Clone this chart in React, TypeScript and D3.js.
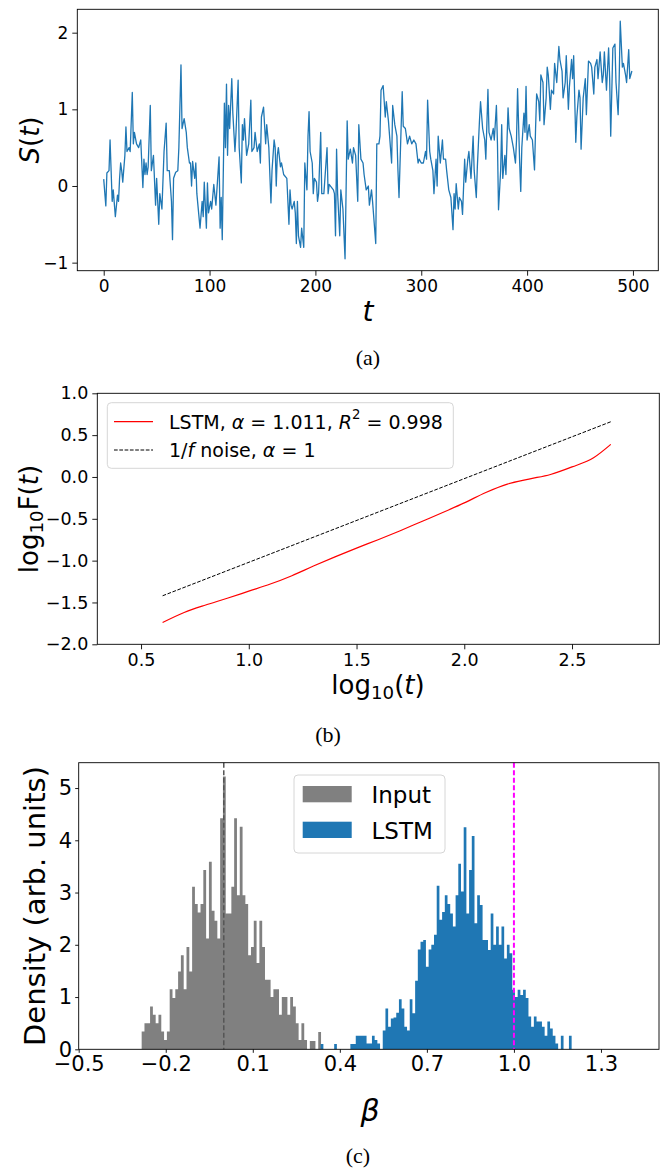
import React, { useEffect, useRef } from 'react';
import * as d3 from 'd3';

// (a) S(t) series as [t, S]
const seriesPoints: [number, number][] = [
  [0,0.09],[2,-0.26],[3,0.17],[5,0.2],[6,0.6],[8,-0.2],[9,-0.05],[11,-0.4],[13,-0.12],[14,-0.2],[15,0.1],[16,0.3],[17,0.2],[18,0.05],[20,0.4],[21,0.77],[22,0.45],[24,0.5],[25,0.45],[27,1.22],[28,0.55],[29,0.7],[31,0.55],[33,0.5],[35,0.6],[37,-0.02],[38,0.35],[39,0.15],[40,0.3],[41,0.15],[42,0.25],[44,1.05],[45,0.2],[47,0.4],[49,-0.25],[50,0.1],[52,-0.5],[53,-0.1],[55,-0.3],[57,0.45],[59,0.82],[60,0.2],[62,0.2],[64,-0.2],[65,-0.7],[66,0.1],[68,0.18],[70,0.2],[71,0.5],[73,1.58],[74,0.75],[76,0.88],[78,0.7],[79,0.5],[81,0.3],[82,0.3],[83,0.0],[84,0.32],[86,0.1],[87,0.3],[88,-0.1],[91,-0.55],[93,-0.2],[94,-0.4],[95,0.05],[97,-0.55],[98,0.04],[99,-0.35],
  [101,-0.2],[102,-0.3],[104,0.02],[106,-0.25],[109,0.38],[110,-0.55],[111,-0.15],[112,-0.7],[114,1.08],[115,0.5],[116,1.33],[117,0.4],[118,1.05],[119,0.75],[121,1.4],[122,0.95],[124,0.45],[125,0.7],[127,1.38],[128,0.5],[130,0.04],[131,0.8],[132,0.6],[133,0.88],[135,0.4],[137,0.55],[139,1.12],[140,0.45],[142,0.5],[143,0.7],[145,0.45],[147,0.55],[148,0.3],[149,0.9],[151,1.03],[153,0.55],[154,0.8],[156,0.5],[158,-0.22],[159,0.2],[161,0.6],[162,0.5],[163,0.0],[164,0.4],[165,0.5],[167,0.25],[168,0.3],[170,0.15],[173,0.1],[175,-0.5],[176,-0.05],[177,-0.25],[178,-0.3],[180,-0.2],[181,-0.35],[182,-0.75],[183,-0.2],[184,-0.65],[186,-0.8],[187,-0.55],[189,-0.8],[190,0.3],[192,-0.05],[193,0.65],[194,0.97],[195,0.45],[197,0.3],[198,-0.1],[199,0.1],
  [201,0.05],[202,-0.2],[203,-0.1],[205,0.7],[206,-0.1],[208,-0.1],[211,0.5],[212,-0.1],[213,0.02],[217,-0.05],[218,-0.1],[219,-0.65],[220,0.48],[221,-0.1],[223,-0.65],[224,-0.05],[226,-0.3],[228,-0.95],[230,0.85],[231,0.35],[233,0.48],[235,0.3],[236,0.5],[238,0.4],[240,-0.2],[241,0.8],[243,0.35],[245,0.3],[246,0.15],[248,-0.05],[250,0.0],[251,-0.25],[253,-0.05],[254,-0.2],[257,-0.75],[258,0.55],[260,0.55],[261,0.65],[262,1.25],[264,1.31],[266,0.9],[267,1.1],[269,0.85],[272,0.3],[273,1.05],[275,0.8],[277,0.65],[278,0.2],[279,-0.15],[282,1.23],[283,0.78],[285,0.75],[287,0.55],[289,0.65],[291,0.55],[293,0.6],[295,0.55],[297,0.3],[298,0.35],
  [300,0.3],[302,0.3],[304,0.45],[305,0.35],[306,1.12],[308,0.45],[309,0.35],[311,0.2],[312,-0.1],[314,0.35],[315,0.0],[316,0.65],[318,0.3],[320,0.6],[321,0.35],[323,0.35],[324,0.2],[326,-0.05],[328,-0.15],[330,-0.57],[331,-0.1],[332,-0.3],[333,0.03],[335,-0.3],[336,-0.15],[338,-0.2],[339,-0.37],[341,0.35],[342,0.05],[344,0.35],[345,0.45],[347,0.1],[349,0.65],[350,0.2],[352,-0.15],[353,0.25],[355,0.85],[356,1.1],[358,0.75],[360,0.6],[361,0.35],[363,1.26],[364,0.7],[366,0.6],[368,0.75],[369,0.6],[371,1.05],[372,0.55],[373,-0.31],[375,0.2],[376,0.8],[377,0.1],[379,0.4],[380,0.15],[382,1.02],[383,0.75],[385,0.65],[387,0.5],[389,0.3],[390,0.6],[391,1.27],[393,0.3],[394,-0.07],[395,0.5],[397,0.95],[398,0.7],[399,1.3],
  [400,0.6],[402,0.8],[403,0.65],[405,0.6],[407,0.21],[408,0.75],[409,1.2],[411,1.1],[412,0.85],[413,1.45],[415,1.35],[416,0.8],[418,1.15],[419,1.55],[420,1.45],[422,1.0],[423,1.25],[425,1.2],[426,1.6],[428,1.35],[430,1.82],[431,1.65],[433,1.5],[434,1.15],[436,1.35],[437,1.7],[439,1.0],[440,1.3],[442,1.65],[443,1.4],[444,1.7],[446,0.57],[447,0.9],[449,1.25],[450,1.15],[451,0.48],[453,1.15],[455,1.4],[456,0.93],[458,1.63],[460,1.6],[461,1.55],[463,1.2],[464,1.55],[466,1.65],[467,1.4],[469,1.75],[471,1.35],[472,1.45],[473,1.75],[475,1.25],[477,1.8],[478,1.4],[479,0.65],[481,1.8],[483,1.85],[484,1.35],[486,0.93],[487,1.4],[488,2.15],[490,1.55],[491,1.6],[493,1.45],[494,1.35],[496,1.78],[497,1.4],[499,1.5],
];
const seriesXTicks = [0, 100, 200, 300, 400, 500];
const seriesYTicks = [-1, 0, 1, 2];

// (b) DFA fluctuation function
const dfaLogT = [0.6, 0.7, 0.8, 0.9, 1.0, 1.1, 1.2, 1.3, 1.4, 1.5, 1.6, 1.7, 1.8, 1.9, 2.0, 2.1, 2.2, 2.3, 2.4, 2.5, 2.6, 2.68];
const dfaLstm = [-1.74, -1.62, -1.53, -1.45, -1.365, -1.28, -1.18, -1.065, -0.955, -0.85, -0.75, -0.645, -0.535, -0.425, -0.31, -0.185, -0.085, -0.025, 0.03, 0.12, 0.23, 0.39];
const noiseLogT = [0.6, 2.68];
const noiseLogF = [-1.42, 0.66];
const dfaXTicks = [0.5, 1.0, 1.5, 2.0, 2.5];
const dfaYTicks = [-2.0, -1.5, -1.0, -0.5, 0.0, 0.5, 1.0];

// (c) beta histograms
const inputBinStart = -0.283;
const inputBinWidth = 0.00966;
const inputDensity = [
  0.34, 0.5, 0.5, 0.82, 0.66, 0.5, 0.66, 0.34, 0.18, 0.34,
  1.15, 0.98, 1.15, 1.49, 1.8, 1.15, 1.96, 1.49, 3.11, 2.78,
  2.62, 2.78, 3.43, 2.12, 3.59, 2.65, 2.46, 2.12, 4.42, 5.22,
  2.6, 2.6, 3.11, 4.42, 2.95, 4.26, 2.95, 2.78, 1.8, 1.96,
  2.46, 1.65, 2.46, 1.96, 1.33, 1.33, 1.0, 1.15, 1.15, 0.66,
  1.0, 1.0, 0.66, 1.0, 0.82, 0.5, 0.18, 0.5, 0.18, 0,
  0.16, 0.16, 0, 0.33,
];
const lstmBinStart = 0.334;
const lstmBinWidth = 0.0093;
const lstmDensity = [
  0.1, 0, 0, 0, 0, 0.1, 0, 0, 0, 0,
  0, 0.1, 0.1, 0.26, 0.26, 0.26, 0.26, 0.11, 0.11, 0.26,
  0.18, 0.11, 0,
  0.36, 0.78, 0.43, 0.59, 0.61, 0.7, 0.96, 0.78, 0.43, 0.36,
  0.96, 0.69, 1.31, 1.91, 2.06, 2.09, 1.58, 1.91, 2.0, 2.19,
  3.13, 2.48, 2.63, 2.95, 2.78, 2.6, 2.35, 2.95, 3.55, 3.02,
  4.25, 2.6, 3.43, 4.08, 2.41, 2.95, 2.76, 2.09, 2.09, 1.9,
  2.6, 2.0, 2.35, 2.0, 2.35, 1.74, 2.0, 1.84, 1.14, 1.0,
  1.14, 1.04, 1.14, 0.98, 0.63, 0.43, 0.63, 0.53, 0.53, 0.43,
  0.26, 0.53, 0.4, 0.26, 0.11, 0, 0.26, 0, 0, 0.26,
];
const inputMarker = 0.0;
const lstmMarker = 1.0;
const betaXTicks = [-0.5, -0.2, 0.1, 0.4, 0.7, 1.0, 1.3];
const betaYTicks = [0, 1, 2, 3, 4, 5];

const FONT = "'DejaVu Sans', sans-serif";
const SERIF = "'Liberation Serif', serif";

type Part = { t: string; i?: boolean; sub?: boolean; sup?: boolean };
type Sel = d3.Selection<SVGGElement, unknown, null, undefined>;

// text made of tspans (italic, subscript, superscript)
function richText(g: Sel, x: number, y: number, parts: Part[], size: number, anchor = 'start', rotate = false) {
  const text = g.append('text')
    .attr('font-family', FONT)
    .attr('font-size', size)
    .attr('text-anchor', anchor)
    .attr('dominant-baseline', 'central')
    .style('white-space', 'pre')
    .attr('transform', rotate ? `translate(${x},${y}) rotate(-90)` : `translate(${x},${y})`);
  let shift = 0;
  parts.forEach(p => {
    const target = p.sub ? size * 0.28 : p.sup ? -size * 0.4 : 0;
    const ts = text.append('tspan').attr('dy', target - shift).text(p.t);
    shift = target;
    if (p.sub || p.sup) ts.attr('font-size', size * 0.7);
    if (p.i) ts.attr('font-style', 'italic');
  });
  return text;
}

function drawAxes(g: Sel, x: d3.ScaleLinear<number, number>, y: d3.ScaleLinear<number, number>,
  xTicks: number[], yTicks: number[], fx: (d: number) => string, fy: (d: number) => string,
  size: number, tick = 5, pad = 4) {
  const [x0, x1] = x.range();
  const [yb, yt] = y.range();
  g.append('g')
    .attr('transform', `translate(0,${yb})`)
    .call(d3.axisBottom(x).tickValues(xTicks).tickFormat(d => fx(d as number)).tickSize(tick).tickPadding(pad))
    .call(a => a.select('.domain').remove())
    .call(a => a.selectAll('line').attr('stroke', '#000').attr('stroke-width', 0.9))
    .call(a => a.selectAll('text').attr('font-size', size).attr('font-family', FONT).attr('fill', '#000'));
  g.append('g')
    .attr('transform', `translate(${x0},0)`)
    .call(d3.axisLeft(y).tickValues(yTicks).tickFormat(d => fy(d as number)).tickSize(tick).tickPadding(pad))
    .call(a => a.select('.domain').remove())
    .call(a => a.selectAll('line').attr('stroke', '#000').attr('stroke-width', 0.9))
    .call(a => a.selectAll('text').attr('font-size', size).attr('font-family', FONT).attr('fill', '#000'));
  g.append('rect')
    .attr('x', x0).attr('y', yt)
    .attr('width', x1 - x0).attr('height', yb - yt)
    .attr('fill', 'none').attr('stroke', '#000').attr('stroke-width', 0.9);
}

const minus = (s: string) => s.replace('-', '\u2212');

const App: React.FC = () => {
  const ref = useRef<SVGSVGElement | null>(null);

  useEffect(() => {
    if (!ref.current) return;
    const svg = d3.select(ref.current);
    svg.selectAll('*').remove();
    const root = svg.append('g') as unknown as Sel;

    // ---------- (a) ----------
    const xa = d3.scaleLinear().domain([-24.95, 523.95]).range([77.3, 658.3]);
    const ya = d3.scaleLinear().domain([-1.105, 2.305]).range([270.7, 9.3]);
    const lineA = d3.line<[number, number]>().x(d => xa(d[0])).y(d => ya(d[1]));
    root.append('path')
      .datum(seriesPoints)
      .attr('d', lineA)
      .attr('fill', 'none')
      .attr('stroke', '#1f77b4')
      .attr('stroke-width', 1.3)
      .attr('stroke-linejoin', 'round');
    drawAxes(root, xa, ya, seriesXTicks, seriesYTicks, d => String(d), d => minus(String(d)), 17);
    richText(root, 368, 311, [{ t: 't', i: true }], 28, 'middle');
    richText(root, 30, 140, [{ t: 'S', i: true }, { t: '(' }, { t: 't', i: true }, { t: ')' }], 26, 'middle', true);
    root.append('text').attr('x', 368).attr('y', 357).attr('text-anchor', 'middle')
      .attr('dominant-baseline', 'central').attr('font-family', SERIF).attr('font-size', 22).text('(a)');

    // ---------- (b) ----------
    const xb = d3.scaleLinear().domain([0.297, 2.905]).range([97.3, 659.3]);
    const yb = d3.scaleLinear().domain([-2, 1]).range([644.3, 393.3]);
    const lineB = d3.line<number>().x((_, i) => xb(dfaLogT[i])).y(d => yb(d)).curve(d3.curveMonotoneX);
    const lineN = d3.line<number>().x((_, i) => xb(noiseLogT[i])).y(d => yb(d));
    root.append('path').datum(noiseLogF).attr('d', lineN)
      .attr('fill', 'none').attr('stroke', '#000').attr('stroke-width', 1).attr('stroke-dasharray', '3.7,1.6');
    root.append('path').datum(dfaLstm).attr('d', lineB)
      .attr('fill', 'none').attr('stroke', '#ff0000').attr('stroke-width', 1.2);
    drawAxes(root, xb, yb, dfaXTicks, dfaYTicks, d => d3.format('.1f')(d), d => d3.format('.1f')(d), 17.5);

    // legend (b)
    root.append('rect').attr('x', 107.3).attr('y', 402.7).attr('width', 346).attr('height', 65.6)
      .attr('rx', 4).attr('fill', '#fff').attr('fill-opacity', 0.8).attr('stroke', '#d6d6d6');
    root.append('line').attr('x1', 114).attr('x2', 153).attr('y1', 421.7).attr('y2', 421.7)
      .attr('stroke', '#ff0000').attr('stroke-width', 1.2);
    root.append('line').attr('x1', 114).attr('x2', 153).attr('y1', 450).attr('y2', 450)
      .attr('stroke', '#000').attr('stroke-width', 1).attr('stroke-dasharray', '3.7,1.6');
    richText(root, 169, 422, [
      { t: 'LSTM, ' }, { t: 'α', i: true }, { t: ' = 1.011, ' }, { t: 'R', i: true }, { t: '2', sup: true }, { t: ' = 0.998' },
    ], 19);
    richText(root, 169, 450, [
      { t: '1/' }, { t: 'f', i: true }, { t: ' noise, ' }, { t: 'α', i: true }, { t: ' = 1' },
    ], 19);

    richText(root, 378, 685, [{ t: 'log' }, { t: '10', sub: true }, { t: '(' }, { t: 't', i: true }, { t: ')' }], 26, 'middle');
    richText(root, 29, 519, [{ t: 'log' }, { t: '10', sub: true }, { t: 'F(' }, { t: 't', i: true }, { t: ')' }], 26, 'middle', true);
    root.append('text').attr('x', 328).attr('y', 734).attr('text-anchor', 'middle')
      .attr('dominant-baseline', 'central').attr('font-family', SERIF).attr('font-size', 22).text('(b)');

    // ---------- (c) ----------
    const xc = d3.scaleLinear().domain([-0.5, 1.5]).range([78.7, 659]);
    const yc = d3.scaleLinear().domain([0, 5.485]).range([1049.3, 762.7]);
    // each histogram is one stepped area, so neighbouring bins leave no seams
    const histArea = d3.area<[number, number]>()
      .x(d => xc(d[0]))
      .y0(yc(0))
      .y1(d => yc(d[1]))
      .curve(d3.curveStepAfter);
    const steps = (vals: number[], start: number, width: number): [number, number][] => [
      ...vals.map((v, i) => [start + i * width, v] as [number, number]),
      [start + vals.length * width, vals[vals.length - 1]],
    ];
    root.append('path').datum(steps(inputDensity, inputBinStart, inputBinWidth))
      .attr('d', histArea).attr('fill', '#808080');
    root.append('path').datum(steps(lstmDensity, lstmBinStart, lstmBinWidth))
      .attr('d', histArea).attr('fill', '#1f77b4');
    root.append('line').attr('x1', xc(inputMarker)).attr('x2', xc(inputMarker))
      .attr('y1', yc.range()[1]).attr('y2', yc.range()[0])
      .attr('stroke', '#555').attr('stroke-width', 1.5).attr('stroke-dasharray', '5,2.5');
    root.append('line').attr('x1', xc(lstmMarker)).attr('x2', xc(lstmMarker))
      .attr('y1', yc.range()[1]).attr('y2', yc.range()[0])
      .attr('stroke', '#ff00ff').attr('stroke-width', 2).attr('stroke-dasharray', '5,2.5');
    drawAxes(root, xc, yc, betaXTicks, betaYTicks, d => d3.format('.1f')(d), d => String(d), 21, 3.5, 3);

    // legend (c)
    root.append('rect').attr('x', 294).attr('y', 775).attr('width', 151).attr('height', 78)
      .attr('rx', 4).attr('fill', '#fff').attr('fill-opacity', 0.8).attr('stroke', '#d6d6d6');
    root.append('rect').attr('x', 302.7).attr('y', 786).attr('width', 49).attr('height', 16.3).attr('fill', '#808080');
    root.append('rect').attr('x', 302.7).attr('y', 821.7).attr('width', 49).attr('height', 16.3).attr('fill', '#1f77b4');
    richText(root, 371.5, 795, [{ t: 'Input' }], 23);
    richText(root, 371.5, 830.5, [{ t: 'LSTM' }], 23);

    richText(root, 370, 1110, [{ t: 'β', i: true }], 30, 'middle');
    richText(root, 35, 906, [{ t: 'Density (arb. units)' }], 29, 'middle', true);
    root.append('text').attr('x', 358).attr('y', 1155).attr('text-anchor', 'middle')
      .attr('dominant-baseline', 'central').attr('font-family', SERIF).attr('font-size', 22).text('(c)');
  }, []);

  return (
    <svg
      ref={ref}
      width={668}
      height={1169}
      style={{ position: 'absolute', left: 0, top: 0, background: '#fff' }}
    />
  );
};

export default App;
